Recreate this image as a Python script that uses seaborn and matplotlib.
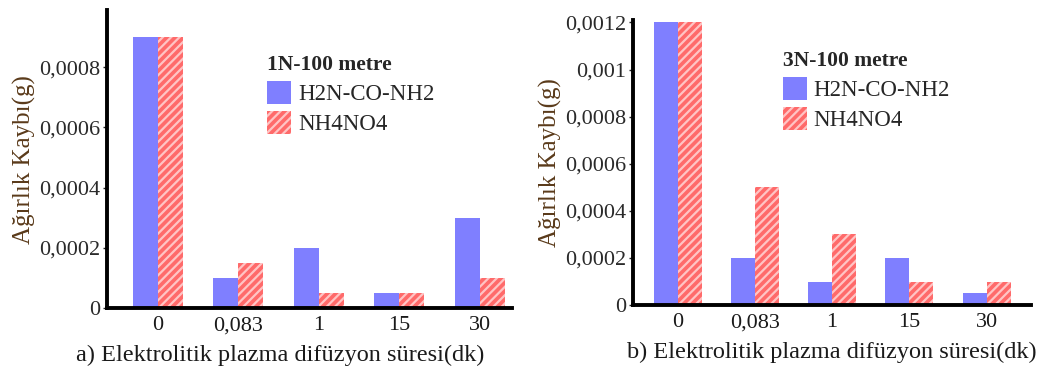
import pandas as pd
import numpy as np
import matplotlib
matplotlib.use('Agg')
import matplotlib.pyplot as plt
import seaborn as sns

# Data
sureler = ['0', '0,083', '1', '15', '30']
seriler = ['H2N-CO-NH2', 'NH4NO4']

ure_1n = [0.0009, 0.0001, 0.0002, 0.00005, 0.0003]
nitrat_1n = [0.0009, 0.00015, 0.00005, 0.00005, 0.0001]

ure_3n = [0.0012, 0.0002, 0.0001, 0.0002, 0.00005]
nitrat_3n = [0.0012, 0.0005, 0.0003, 0.0001, 0.0001]

y_ticks_1n = [0, 0.0002, 0.0004, 0.0006, 0.0008]
y_labels_1n = ['0', '0,0002', '0,0004', '0,0006', '0,0008']
y_ticks_3n = [0, 0.0002, 0.0004, 0.0006, 0.0008, 0.001, 0.0012]
y_labels_3n = ['0', '0,0002', '0,0004', '0,0006', '0,0008', '0,001', '0,0012']


def long_df(a, b):
    return pd.DataFrame({
        'Süre': sureler * 2,
        'Madde': [seriler[0]] * len(sureler) + [seriler[1]] * len(sureler),
        'Kayip': list(a) + list(b),
    })


sns.set_theme(style='white')
plt.rcParams['font.family'] = ['Liberation Serif', 'DejaVu Serif']
plt.rcParams['hatch.linewidth'] = 1.6

fig = plt.figure(figsize=(10.39, 3.73), dpi=100)
ax1 = fig.add_axes([0.103, 0.174, 0.390, 0.799])
ax2 = fig.add_axes([0.609, 0.182, 0.383, 0.764])

panels = [
    (ax1, ure_1n, nitrat_1n, y_ticks_1n, y_labels_1n, 0.00099, (-0.63, 4.4),
     '1N-100 metre', 'a) Elektrolitik plazma difüzyon süresi(dk)', (0.395, 0.85), 0.427),
    (ax2, ure_3n, nitrat_3n, y_ticks_3n, y_labels_3n, 0.00121, (-0.58, 4.57),
     '3N-100 metre', 'b) Elektrolitik plazma difüzyon süresi(dk)', (0.377, 0.892), 0.5),
]

for ax, a, b, yt, yl, ytop, xl, baslik, xlab, leg_pos, xlab_x in panels:
    df = long_df(a, b)
    sns.barplot(data=df, x='Süre', y='Kayip', hue='Madde', ax=ax,
                palette=['#7f7fff', '#ff6a6a'], width=0.62, saturation=1,
                linewidth=0, legend=False)
    for p in ax.containers[1]:
        p.set_hatch('////')
        p.set_edgecolor('#ffc4c4')
        p.set_linewidth(0)
    ax.set_ylim(0, ytop)
    ax.set_xlim(*xl)
    ax.set_yticks(yt)
    ax.set_yticklabels(yl, fontsize=16, color='#2a2a2a')
    ax.tick_params(axis='x', labelsize=16, length=0, pad=6, labelcolor='#1a1a1a')
    ax.tick_params(axis='y', length=3, width=1, direction='out', left=True, pad=2)
    for s in ['top', 'right']:
        ax.spines[s].set_visible(False)
    for s in ['left', 'bottom']:
        ax.spines[s].set_linewidth(2.8)
        ax.spines[s].set_color('black')
    ax.set_ylabel('Ağırlık Kaybı(g)', fontsize=18, color='#5a3a1a', labelpad=2)
    ax.set_xlabel(xlab, fontsize=17.5, color='#1a1a1a', labelpad=7)
    ax.xaxis.label.set_x(xlab_x)
    handles = [ax.containers[0][0], ax.containers[1][0]]
    leg = ax.legend(handles, seriler, title=baslik, loc='upper left',
                    bbox_to_anchor=leg_pos, frameon=False, fontsize=16.5,
                    handlelength=1.05, handleheight=1.2, handletextpad=0.3,
                    labelspacing=0.25, borderaxespad=0, borderpad=0,
                    alignment='left')
    leg.get_title().set_fontweight('bold')
    leg.get_title().set_fontsize(15.5)

fig.savefig('out.png', dpi=100)
plt.close()
